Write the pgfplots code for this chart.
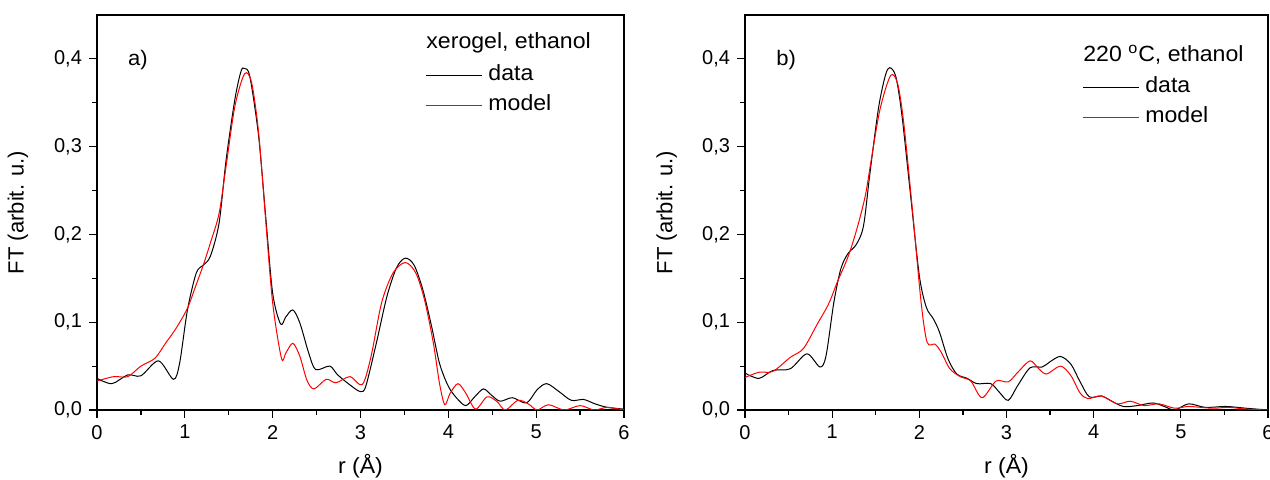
\documentclass[border=0pt]{standalone}
\usepackage{fontspec}
\setmainfont{Liberation Sans}[FakeStretch=1.05]
\newfontfamily\upright{Liberation Sans}
\usepackage{pgfplots}
\pgfplotsset{compat=1.18}

\pgfplotsset{
  ftaxis/.style={
    scale only axis,
    height=197.5pt,
    xmin=0, xmax=6, ymin=0, ymax=0.45,
    xtick={0,1,2,3,4,5,6}, minor x tick num=1,
    ytick={0,0.1,0.2,0.3,0.4}, minor y tick num=1,
    tick align=outside, xtick pos=bottom, ytick pos=left,
    major tick length=4pt, minor tick length=2.5pt,
    axis line style={line width=0.75pt},
    every tick/.style={black, line width=0.6pt},
    /pgf/number format/assume math mode=true,
    y tick label style={/pgf/number format/.cd, fixed, fixed zerofill, precision=1, use comma, /tikz/.cd},
    tick label style={font=\upright\fontsize{10}{12}\selectfont},
    xlabel={r (Å)}, ylabel={FT (arbit. u.)},
    xlabel style={at={(axis description cs:0.5,-0.142)}, anchor=center, font=\fontsize{11}{13}\selectfont},
    ylabel style={at={(axis description cs:-0.15,0.5)}, anchor=center, font=\upright\fontsize{11}{13}\selectfont},
    legend style={draw=none, fill=none, anchor=north west, inner sep=0pt,
      font=\fontsize{11}{13}\selectfont, row sep=4.5pt, column sep=3pt,
      nodes={inner sep=0pt, text height=8pt, text depth=2.5pt}},
    legend cell align=left,
    legend image code/.code={\draw[#1] (0pt,0pt) -- (28pt,0pt);},
  },
  dataline/.style={black, line width=0.5pt, smooth, tension=0.5},
  modelline/.style={red, line width=0.5pt, smooth, tension=0.5},
}

\begin{document}
\begin{tikzpicture}
\begin{axis}[ftaxis, width=263.5pt, at={(0pt,0pt)}, anchor=south west,
  legend style={at={(axis cs:3.735,0.394)}}]
\addplot[dataline] coordinates {
(0,0.036)(0.17,0.030)(0.35,0.040)(0.5,0.039)(0.70,0.056)(0.87,0.035)(0.94,0.053)
(1.03,0.114)(1.13,0.156)(1.21,0.165)(1.29,0.175)(1.39,0.213)(1.47,0.285)(1.57,0.354)
(1.64,0.386)(1.68,0.389)(1.74,0.380)(1.84,0.312)(1.92,0.221)(2.00,0.133)(2.09,0.098)
(2.15,0.106)(2.23,0.114)(2.31,0.099)(2.41,0.065)(2.49,0.046)(2.65,0.050)(2.74,0.040)
(2.90,0.027)(3.00,0.021)(3.06,0.027)(3.18,0.076)(3.30,0.129)(3.41,0.162)(3.51,0.173)
(3.61,0.165)(3.71,0.137)(3.81,0.095)(3.90,0.053)(4.00,0.027)(4.10,0.013)(4.20,0.005)
(4.30,0.015)(4.40,0.024)(4.49,0.017)(4.59,0.010)(4.73,0.014)(4.89,0.008)(5.01,0.023)
(5.12,0.030)(5.26,0.021)(5.40,0.011)(5.54,0.012)(5.67,0.007)(5.81,0.003)(6.0,0.001)
};
\addlegendentry{data}
\addplot[modelline] coordinates {
(0,0.033)(0.19,0.038)(0.35,0.038)(0.5,0.050)(0.66,0.059)(0.78,0.076)(0.90,0.093)
(1.03,0.116)(1.13,0.143)(1.21,0.165)(1.29,0.190)(1.39,0.224)(1.47,0.278)(1.57,0.346)
(1.68,0.383)(1.76,0.373)(1.84,0.316)(1.92,0.217)(2.00,0.122)(2.10,0.059)(2.15,0.065)
(2.23,0.076)(2.31,0.061)(2.39,0.034)(2.47,0.024)(2.61,0.035)(2.72,0.031)(2.88,0.038)
(3.02,0.029)(3.12,0.061)(3.24,0.122)(3.37,0.156)(3.51,0.168)(3.63,0.156)(3.73,0.125)
(3.83,0.076)(3.90,0.030)(3.96,0.006)(4.02,0.019)(4.11,0.030)(4.20,0.019)(4.31,0.001)
(4.44,0.015)(4.55,0.010)(4.65,0.000)(4.79,0.011)(4.91,0.007)(5.01,0.000)(5.14,0.006)
(5.32,0.000)(5.50,0.005)(5.66,0.000)(5.81,0.003)(6.0,0.000)
};
\addlegendentry{model}
\node[anchor=base west, inner sep=0pt, font=\fontsize{10.5}{12}\selectfont] at (axis cs:0.35,0.393) {a)};
\node[anchor=base west, inner sep=0pt, font=\fontsize{11}{13}\selectfont] at (axis cs:3.746,0.412) {xerogel, ethanol};
\end{axis}

\begin{axis}[ftaxis, width=261.5pt, at={(324pt,0pt)}, anchor=south west,
  legend style={at={(axis cs:3.866,0.380)}}]
\addplot[dataline] coordinates {
(0,0.042)(0.16,0.036)(0.32,0.045)(0.52,0.047)(0.71,0.064)(0.86,0.049)(0.93,0.062)
(1.02,0.123)(1.10,0.161)(1.18,0.178)(1.28,0.189)(1.36,0.210)(1.43,0.267)(1.53,0.343)
(1.61,0.381)(1.66,0.390)(1.73,0.380)(1.80,0.336)(1.90,0.244)(2.00,0.153)(2.08,0.117)
(2.16,0.104)(2.23,0.089)(2.33,0.058)(2.43,0.041)(2.55,0.036)(2.66,0.030)(2.82,0.030)
(2.92,0.020)(3.02,0.011)(3.13,0.028)(3.27,0.048)(3.41,0.049)(3.50,0.055)(3.62,0.061)
(3.74,0.052)(3.84,0.033)(3.95,0.015)(4.09,0.016)(4.19,0.011)(4.34,0.004)(4.50,0.005)
(4.68,0.008)(4.81,0.004)(4.93,0.000)(5.09,0.007)(5.28,0.003)(5.52,0.004)(5.75,0.002)
(6.0,0.000)
};
\addlegendentry{data}
\addplot[modelline] coordinates {
(0,0.037)(0.16,0.043)(0.32,0.044)(0.52,0.060)(0.67,0.070)(0.83,0.098)(0.96,0.121)
(1.06,0.146)(1.18,0.174)(1.28,0.205)(1.38,0.244)(1.45,0.286)(1.55,0.343)(1.67,0.381)
(1.75,0.372)(1.82,0.328)(1.92,0.229)(2.02,0.123)(2.09,0.077)(2.18,0.075)(2.25,0.066)
(2.35,0.047)(2.47,0.038)(2.59,0.033)(2.72,0.014)(2.88,0.033)(3.02,0.032)(3.13,0.043)
(3.27,0.056)(3.37,0.047)(3.46,0.041)(3.62,0.050)(3.74,0.039)(3.84,0.020)(3.93,0.013)
(4.09,0.016)(4.27,0.007)(4.42,0.010)(4.58,0.005)(4.75,0.007)(4.93,0.002)(5.09,0.004)
(5.36,0.002)(5.55,0.003)(5.75,0.001)(6.0,0.000)
};
\addlegendentry{model}
\node[anchor=base west, inner sep=0pt, font=\fontsize{10.5}{12}\selectfont] at (axis cs:0.356,0.392) {b)};
\node[anchor=base west, inner sep=0pt, font=\fontsize{11}{13}\selectfont] at (axis cs:3.877,0.3966) {220 \textsuperscript{o}C, ethanol};
\end{axis}
\pgfresetboundingbox
\useasboundingbox (-48.5pt,-35pt) rectangle (586.5pt,205pt);
\end{tikzpicture}
\end{document}
